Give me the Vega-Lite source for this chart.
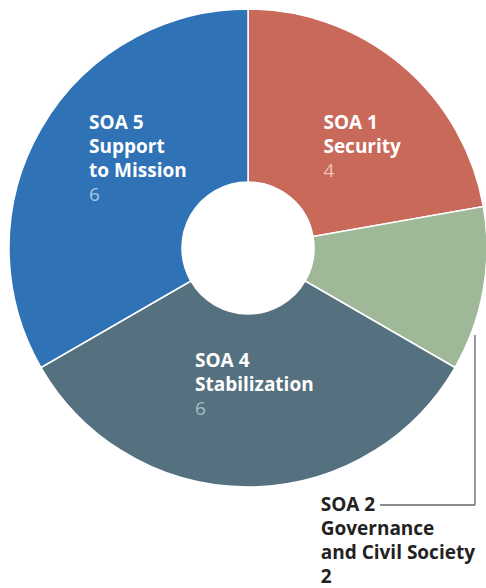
{
  "$schema": "https://vega.github.io/schema/vega-lite/v6.json",
  "autosize": "none",
  "width": 476,
  "height": 496,
  "padding": {"left": 10, "top": 0, "right": 0, "bottom": 92},
  "background": "white",
  "config": {"view": {"stroke": null}},
  "data": {
    "values": [
      {"soa": "SOA 1", "label": "SOA 1\nSecurity", "value": 4, "order": 1},
      {"soa": "SOA 2", "label": "SOA 2\nGovernance\nand Civil Society\n2", "value": 2, "order": 2},
      {"soa": "SOA 4", "label": "SOA 4\nStabilization", "value": 6, "order": 3},
      {"soa": "SOA 5", "label": "SOA 5\nSupport\nto Mission", "value": 6, "order": 4}
    ]
  },
  "encoding": {
    "theta": {"field": "value", "type": "quantitative", "stack": true},
    "order": {"field": "order", "type": "quantitative"}
  },
  "layer": [
    {
      "mark": {"type": "arc", "outerRadius": 239, "innerRadius": 66, "stroke": "white", "strokeWidth": 1.5},
      "encoding": {
        "color": {
          "field": "soa", "type": "nominal", "legend": null,
          "scale": {"domain": ["SOA 1", "SOA 2", "SOA 4", "SOA 5"], "range": ["#C8695A", "#9FB998", "#557180", "#2F72B5"]}
        }
      }
    },
    {
      "mark": {
        "type": "text", "radius": 150, "align": "left", "baseline": "alphabetic",
        "font": "Open Sans", "fontWeight": "bold", "fontSize": 19, "lineHeight": 24, "lineBreak": "\n",
        "dx": {"expr": "datum.soa == 'SOA 1' ? -21 : datum.soa == 'SOA 2' ? -75 : datum.soa == 'SOA 4' ? -53 : -29"},
        "dy": {"expr": "datum.soa == 'SOA 1' ? -4 : datum.soa == 'SOA 2' ? 237 : datum.soa == 'SOA 4' ? -31 : -44"}
      },
      "encoding": {
        "text": {"field": "label", "type": "nominal"},
        "color": {
          "field": "soa", "type": "nominal", "legend": null,
          "scale": {"domain": ["SOA 1", "SOA 2", "SOA 4", "SOA 5"], "range": ["#FFFFFF", "#222222", "#FFFFFF", "#FFFFFF"]}
        }
      }
    },
    {
      "mark": {
        "type": "text", "radius": 150, "align": "left", "baseline": "alphabetic",
        "font": "Open Sans", "fontSize": 19,
        "dx": {"expr": "datum.soa == 'SOA 1' ? -21 : datum.soa == 'SOA 4' ? -53 : -29"},
        "dy": {"expr": "datum.soa == 'SOA 1' ? 44 : datum.soa == 'SOA 4' ? 17 : 28"}
      },
      "encoding": {
        "text": {
          "condition": {"test": "datum.soa == 'SOA 2'", "value": ""},
          "field": "value", "type": "quantitative"
        },
        "color": {
          "field": "soa", "type": "nominal", "legend": null,
          "scale": {"domain": ["SOA 1", "SOA 2", "SOA 4", "SOA 5"], "range": ["#F0C2B6", "#222222", "#A9BCC6", "#A9C6E6"]}
        }
      }
    },
    {
      "data": {"values": [{"x": 465, "y": 335, "y2": 505}]},
      "mark": {"type": "rule", "color": "#666666", "strokeWidth": 1.3},
      "encoding": {
        "theta": null, "order": null,
        "x": {"field": "x", "type": "quantitative", "scale": null},
        "y": {"field": "y", "type": "quantitative", "scale": null},
        "y2": {"field": "y2"}
      }
    },
    {
      "data": {"values": [{"x": 370, "x2": 465, "y": 505}]},
      "mark": {"type": "rule", "color": "#666666", "strokeWidth": 1.3},
      "encoding": {
        "theta": null, "order": null,
        "x": {"field": "x", "type": "quantitative", "scale": null},
        "x2": {"field": "x2"},
        "y": {"field": "y", "type": "quantitative", "scale": null}
      }
    }
  ],
  "resolve": {"scale": {"color": "independent"}}
}
